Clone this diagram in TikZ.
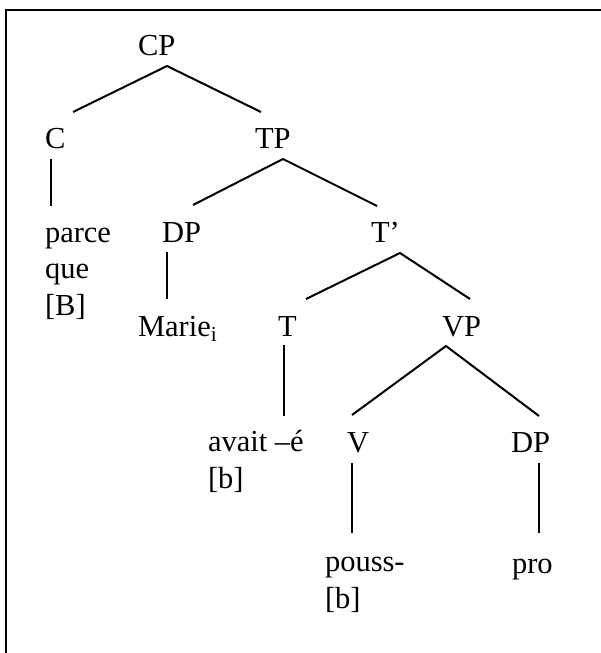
\documentclass[tikz,border=0pt]{standalone}
\usepackage{fontspec}
\setmainfont{Liberation Serif}
\begin{document}
\begin{tikzpicture}[x=1pt,y=-1pt,
  lbl/.style={inner sep=0pt,outer sep=0pt,anchor=base west,align=left,
    font=\fontsize{30.5}{36.5}\selectfont},
  edge/.style={line width=2pt},
  frame/.style={line width=2pt}]
\useasboundingbox (0,0) rectangle (601,653);
\draw[frame] (6,653) -- (6,10) -- (601,10);
% labels (multi-line nodes are placed by the baseline of their last line)
\node[lbl] (CP) at (138,55) {CP};
\node[lbl] (C) at (45,148) {C};
\node[lbl] (TP) at (255,148) {TP};
\node[lbl] (parce) at (45,315) {parce\\que\\{[B]}};
\node[lbl] (DP1) at (162,242) {DP};
\node[lbl] (Tbar) at (371,242) {T’};
\node[lbl] (Marie) at (138,336) {Marie\textsubscript{i}};
\node[lbl] (T) at (278,336) {T};
\node[lbl] (VP) at (442,336) {VP};
\node[lbl] (avait) at (208,488) {avait –é\\{[b]}};
\node[lbl] (V) at (347,452) {V};
\node[lbl] (DP2) at (511,452) {DP};
\node[lbl] (pouss) at (325,608) {pouss-\\{[b]}};
\node[lbl] (pro) at (512,573) {pro};
% connector end points
\coordinate (CP-s) at (167,66);
\coordinate (C-n) at (73,112);
\coordinate (TP-n) at (261,112);
\coordinate (C-s) at (51,159);
\coordinate (parce-n) at (51,206);
\coordinate (TP-s) at (283,159);
\coordinate (DP1-n) at (193,205);
\coordinate (Tbar-n) at (377,206);
\coordinate (DP1-s) at (167,252);
\coordinate (Marie-n) at (167,299);
\coordinate (Tbar-s) at (400,253);
\coordinate (T-n) at (306,299);
\coordinate (VP-n) at (470,299);
\coordinate (T-s) at (284,345);
\coordinate (avait-n) at (284,416);
\coordinate (VP-s) at (446,346);
\coordinate (V-n) at (352,415);
\coordinate (DP2-n) at (539,416);
\coordinate (V-s) at (352,463);
\coordinate (pouss-n) at (352,533);
\coordinate (DP2-s) at (539,463);
\coordinate (pro-n) at (539,533);
% connectors
\draw[edge] (C-n) -- (CP-s) -- (TP-n);
\draw[edge] (C-s) -- (parce-n);
\draw[edge] (DP1-n) -- (TP-s) -- (Tbar-n);
\draw[edge] (DP1-s) -- (Marie-n);
\draw[edge] (T-n) -- (Tbar-s) -- (VP-n);
\draw[edge] (T-s) -- (avait-n);
\draw[edge] (V-n) -- (VP-s) -- (DP2-n);
\draw[edge] (V-s) -- (pouss-n);
\draw[edge] (DP2-s) -- (pro-n);
\end{tikzpicture}
\end{document}
